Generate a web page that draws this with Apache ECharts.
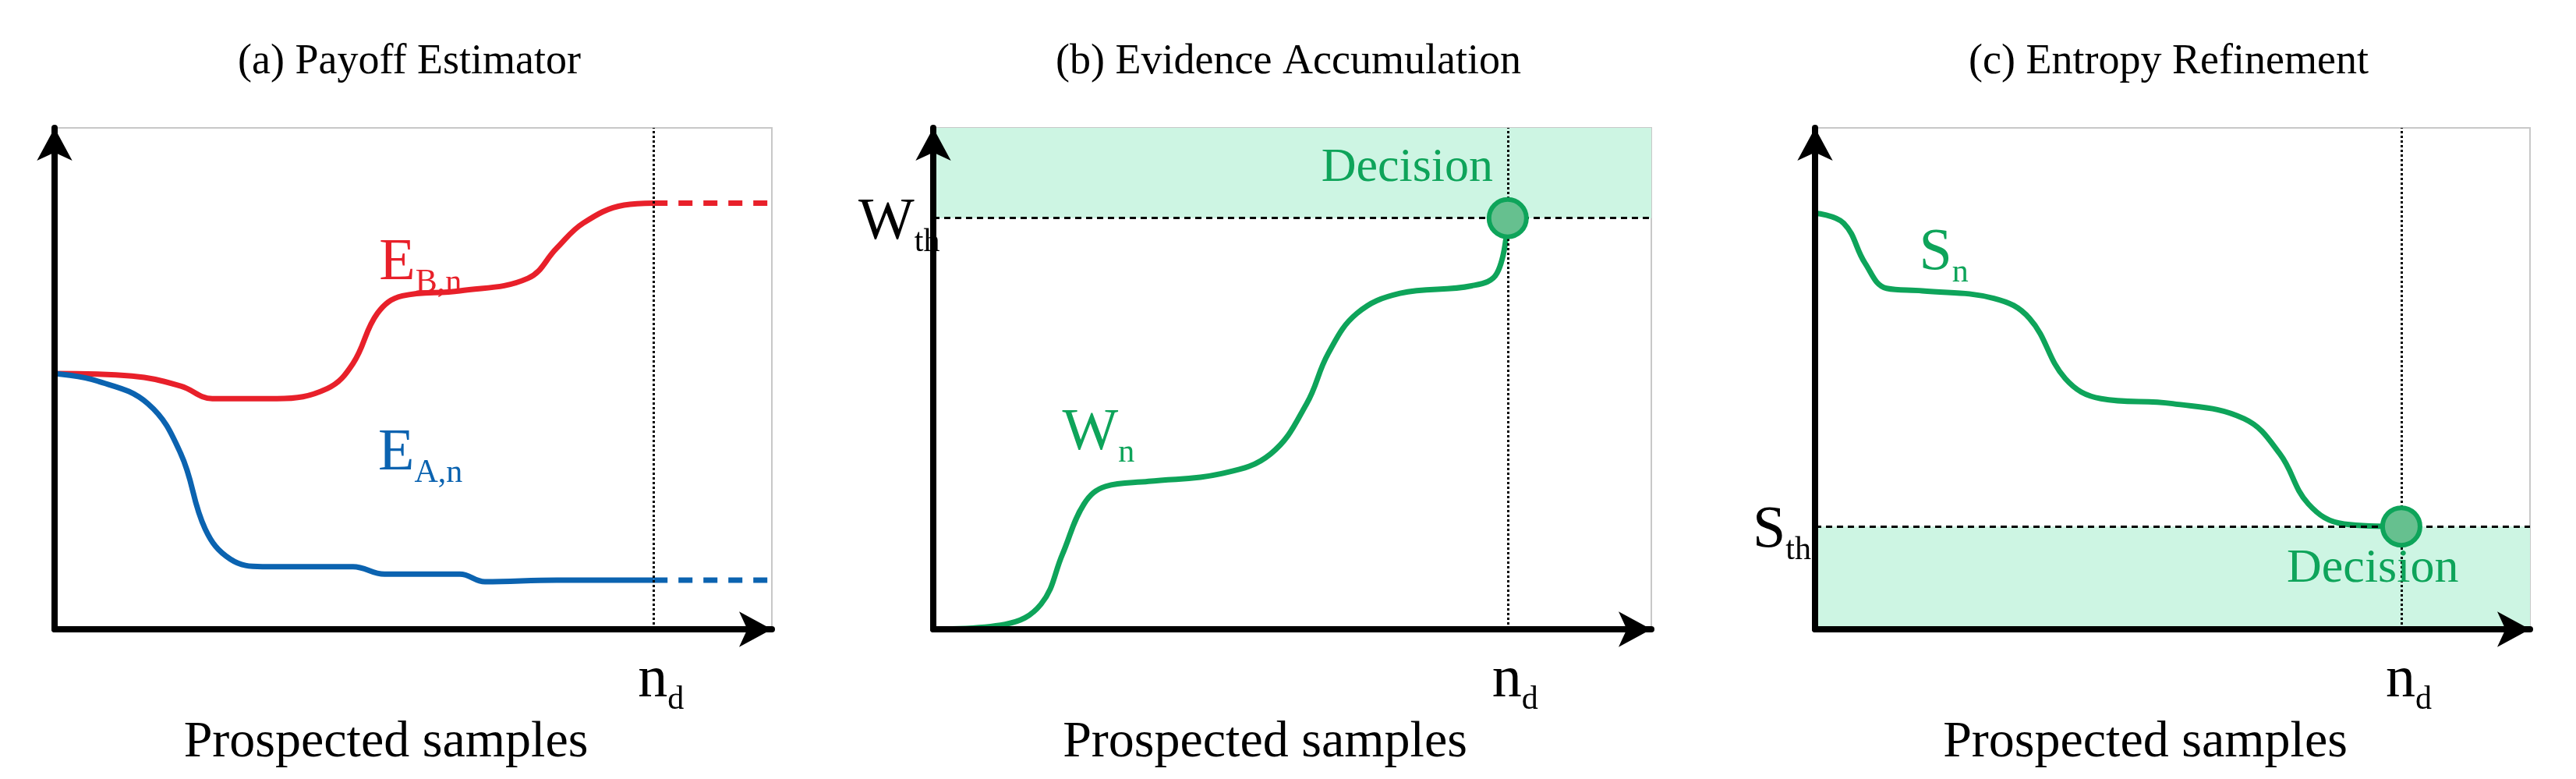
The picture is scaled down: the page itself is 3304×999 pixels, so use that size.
<!DOCTYPE html>
<html><head><meta charset="utf-8">
<script src="https://cdn.jsdelivr.net/npm/echarts@6/dist/echarts.min.js"></script>
<style>html,body{margin:0;background:#fff}#c{width:3304px;height:999px}</style>
</head><body><div id="c"></div>
<script>
// data (x: 0 = y-axis, 100 = plot right; y: 0 = x-axis, 100 = plot top)
var payoffB = [[0,51],[10.8,50.5],[17.6,48.5],[22,46],[31,46],[38,48],[41.6,53],[45,63],[48.5,66.5],[56.5,67.5],[66,70],[70,76],[73.7,81],[79.4,84.6],[83.5,85]];
var payoffA = [[0,51],[6,49.5],[13,45],[17.6,35],[21,20],[24.5,14],[29,12.5],[41.6,12.5],[46,11],[56.5,11],[60,9.5],[70,9.8],[83.5,9.8]];
var tailB = [[83.5,85],[100,85]];
var tailA = [[83.5,9.8],[100,9.8]];
var evidence = [[0,0],[10,1],[15,5],[18,15],[21,25],[24,28.5],[30,29.5],[40,31],[47,35],[52,45],[55,55],[59,63],[65,67],[75,68.5],[78.5,71],[80,82]];
var entropy = [[0,83],[4,81],[7,73],[10,68],[15,67.5],[25,66],[30,62],[35,50],[40,46],[50,45],[60,42],[65,35],[69,25],[74,21],[82,20.5]];
var ndA = 83.5, ndB = 80, ndC = 82, wTh = 82, sTh = 20.5;
var titles = ['(a) Payoff Estimator', '(b) Evidence Accumulation', '(c) Entropy Refinement'];

var RED = '#e8202a', BLUE = '#0b63b0', GREEN = '#0ea45a', SHADE = '#cdf5e3';
var serif = 'Liberation Serif';
var grids = [{left:70,width:920},{left:1197,width:921},{left:2328,width:917}];

var myChart = echarts.init(document.getElementById('c'));
var opt = {
    animation: false,
    title: [], grid: [], xAxis: [], yAxis: [], series: []
};
grids.forEach(function(g, i) {
    opt.grid.push({left: g.left, width: g.width, top: 164, height: 643, show: true, borderColor: '#c8c8c8', borderWidth: 2});
    opt.title.push({text: titles[i], left: g.left + g.width / 2 - 10, top: 48, textAlign: 'center',
        textStyle: {fontFamily: serif, fontSize: 54, fontWeight: 'normal', color: '#000'}});
    opt.title.push({text: 'Prospected samples', left: g.left + g.width / 2 - 40, top: 915, textAlign: 'center',
        textStyle: {fontFamily: serif, fontSize: 66, fontWeight: 'normal', color: '#000'}});
    var axisLine = {show: true, onZero: false, symbol: ['none', 'arrow'], symbolSize: [34, 42], lineStyle: {color: '#000', width: 8}};
    opt.xAxis.push({type: 'value', gridIndex: i, min: 0, max: 100, z: 10, axisLine: axisLine, axisTick: {show: false}, axisLabel: {show: false}, splitLine: {show: false}});
    opt.yAxis.push({type: 'value', gridIndex: i, min: 0, max: 100, z: 10, axisLine: axisLine, axisTick: {show: false}, axisLabel: {show: false}, splitLine: {show: false}});
});

var rich = function(color) {
    return {m: {fontFamily: serif, fontSize: 76, color: color}, s: {fontFamily: serif, fontSize: 42, color: color, padding: [50, 0, 0, 0]}};
};
function sub(main, s, color) {
    return {formatter: '{m|' + main + '}{s|' + s + '}', show: true, rich: rich(color)};
}
function txt(coord, label) {
    return {coord: coord, symbolSize: 0, label: label};
}
function vline(x) {
    return {symbol: 'none', silent: true, label: {show: false}, lineStyle: {type: 'dotted', color: '#000', width: 3}, data: [{xAxis: x}]};
}
function dot(x, y) {
    return {coord: [x, y], symbol: 'circle', symbolSize: 48, itemStyle: {color: '#66c08f', borderColor: GREEN, borderWidth: 6}, label: {show: false}};
}

// (a)
opt.series.push({type: 'line', xAxisIndex: 0, yAxisIndex: 0, data: payoffB, smooth: 0.4, showSymbol: false, lineStyle: {color: RED, width: 7},
    markLine: vline(ndA),
    markPoint: {data: [txt([51, 73], sub('E', 'B,n', RED))]}});
opt.series.push({type: 'line', xAxisIndex: 0, yAxisIndex: 0, data: payoffA, smooth: 0.4, showSymbol: false, lineStyle: {color: BLUE, width: 7},
    markPoint: {data: [txt([51, 35], sub('E', 'A,n', BLUE))]}});
opt.series.push({type: 'line', xAxisIndex: 0, yAxisIndex: 0, data: tailB, showSymbol: false, lineStyle: {color: RED, width: 7, type: [18, 14]}});
opt.series.push({type: 'line', xAxisIndex: 0, yAxisIndex: 0, data: tailA, showSymbol: false, lineStyle: {color: BLUE, width: 7, type: [18, 14]}});

// (b)
opt.series.push({type: 'line', xAxisIndex: 1, yAxisIndex: 1, data: evidence, smooth: 0.4, showSymbol: false, lineStyle: {color: GREEN, width: 7},
    markArea: {silent: true, itemStyle: {color: SHADE}, data: [[{yAxis: wTh}, {yAxis: 100}]]},
    markLine: {symbol: 'none', silent: true, label: {show: false}, data: [
        {xAxis: ndB, lineStyle: {type: 'dotted', color: '#000', width: 3}},
        {yAxis: wTh, lineStyle: {type: [8, 6], color: '#000', width: 3}}]},
    markPoint: {data: [dot(ndB, wTh), txt([23, 39], sub('W', 'n', GREEN)),
        {coord: [66, 92], symbolSize: 0, label: {show: true, formatter: 'Decision', fontFamily: serif, fontSize: 62, color: GREEN}}]}});

// (c)
opt.series.push({type: 'line', xAxisIndex: 2, yAxisIndex: 2, data: entropy, smooth: 0.4, showSymbol: false, lineStyle: {color: GREEN, width: 7},
    markArea: {silent: true, itemStyle: {color: SHADE}, data: [[{yAxis: 0}, {yAxis: sTh}]]},
    markLine: {symbol: 'none', silent: true, label: {show: false}, data: [
        {xAxis: ndC, lineStyle: {type: 'dotted', color: '#000', width: 3}},
        {yAxis: sTh, lineStyle: {type: [8, 6], color: '#000', width: 3}}]},
    markPoint: {data: [dot(ndC, sTh), txt([18, 75], sub('S', 'n', GREEN)),
        {coord: [78, 12], symbolSize: 0, label: {show: true, formatter: 'Decision', fontFamily: serif, fontSize: 62, color: GREEN}}]}});

myChart.setOption(opt);

// labels outside the plot areas, placed from the axes
var outside = [];
[[0, ndA], [1, ndB], [2, ndC]].forEach(function(p) {
    var pt = myChart.convertToPixel({gridIndex: p[0]}, [p[1], 0]);
    outside.push({type: 'text', x: pt[0] - 20, y: pt[1] + 20, style: {rich: rich('#000'), text: '{m|n}{s|d}'}});
});
var pw = myChart.convertToPixel({gridIndex: 1}, [0, wTh]);
outside.push({type: 'text', x: pw[0] - 96, y: pw[1] - 40, style: {rich: rich('#000'), text: '{m|W}{s|th}'}});
var ps = myChart.convertToPixel({gridIndex: 2}, [0, sTh]);
outside.push({type: 'text', x: ps[0] - 80, y: ps[1] - 40, style: {rich: rich('#000'), text: '{m|S}{s|th}'}});
myChart.setOption({graphic: outside});
</script></body></html>
